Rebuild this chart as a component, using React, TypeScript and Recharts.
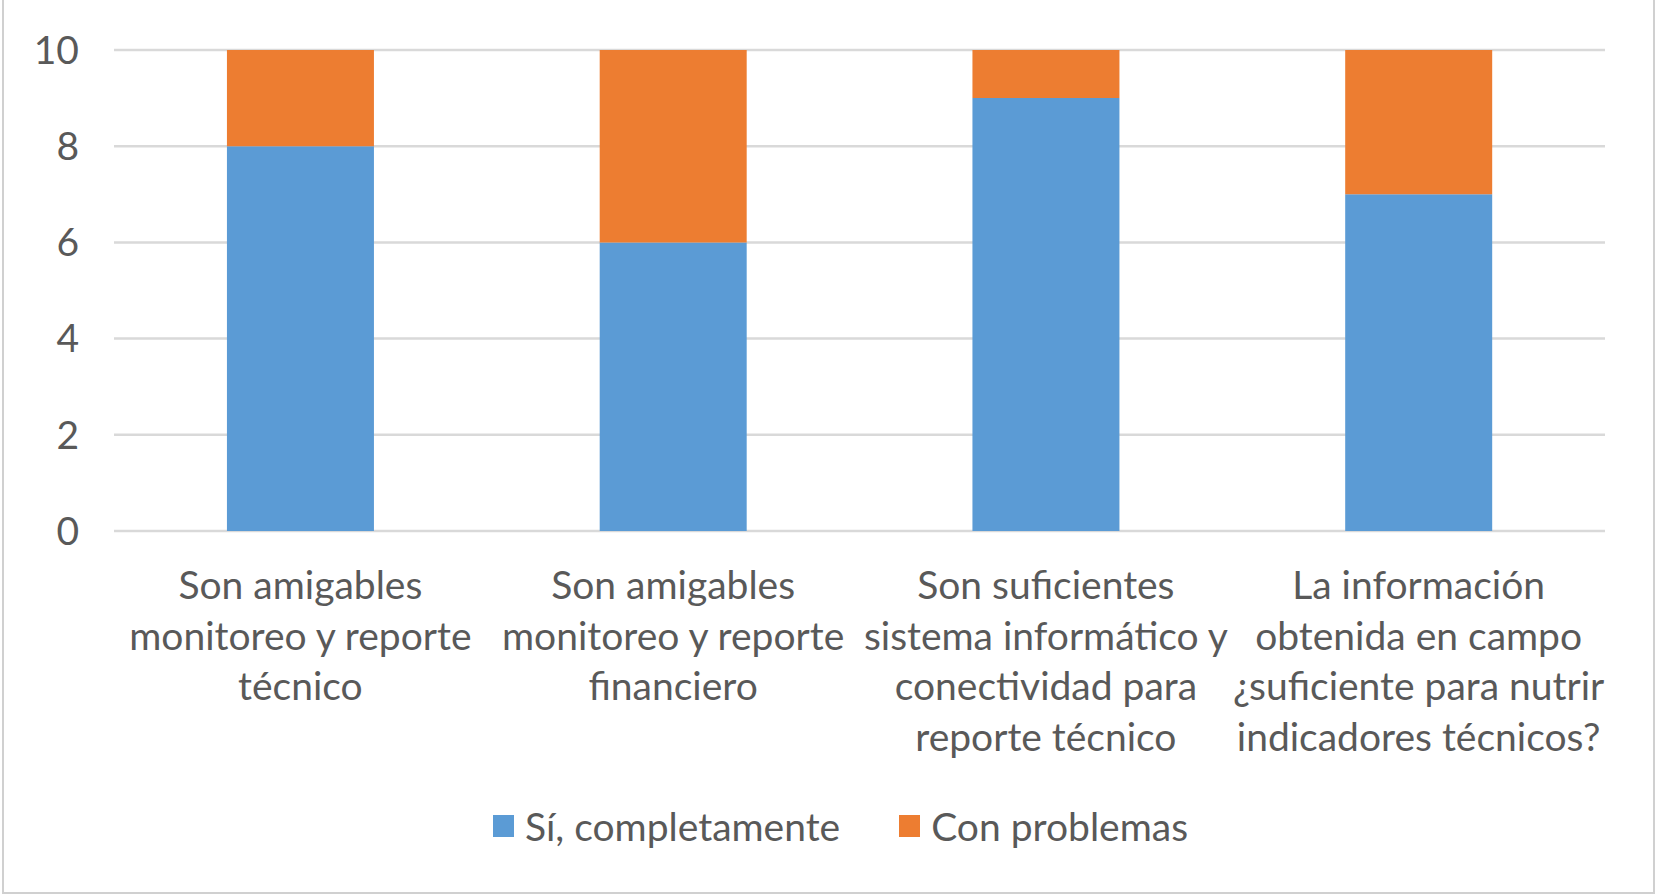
import React from 'react';
import { BarChart, Bar, XAxis, YAxis, CartesianGrid, Legend } from 'recharts';

const categories = [
  'Son amigables\nmonitoreo y reporte\ntécnico',
  'Son amigables\nmonitoreo y reporte\nfinanciero',
  'Son suficientes\nsistema informático y\nconectividad para\nreporte técnico',
  'La información\nobtenida en campo\n¿suficiente para nutrir\nindicadores técnicos?',
];
const siCompletamente = [8, 6, 9, 7];
const conProblemas = [2, 4, 1, 3];
const yTicks = [0, 2, 4, 6, 8, 10];
const seriesNames = ['Sí, completamente', 'Con problemas'];
const colors = ['#5B9BD5', '#ED7D31'];

const data = categories.map((name, i) => ({
  name,
  si: siCompletamente[i],
  con: conProblemas[i],
}));

const FONT = 'Lato, "Open Sans", sans-serif';
const TEXT = '#595959';
const FS = 39;

// multi-line category label, lines are split on \n
const CategoryTick = (props: any) => {
  const { x, y, payload } = props;
  const lines = String(payload.value).split('\n');
  return (
    <text x={x} y={y} textAnchor="middle" fill={TEXT} fontSize={FS} fontFamily={FONT}>
      {lines.map((l, i) => (
        <tspan key={i} x={x} dy={i === 0 ? 68 : 50.7}>
          {l}
        </tspan>
      ))}
    </text>
  );
};

const LegendContent = () => (
  <div style={{ display: 'flex', alignItems: 'center', fontFamily: FONT, fontSize: FS, color: TEXT, paddingLeft: 493 }}>
    {seriesNames.map((n, i) => (
      <div key={n} style={{ display: 'flex', alignItems: 'center', marginRight: 59 }}>
        <span style={{ display: 'inline-block', width: 21, height: 22, background: colors[i], marginRight: 11 }} />
        <span>{n}</span>
      </div>
    ))}
  </div>
);

export default function App() {
  return (
    <div style={{ position: 'absolute', top: 0, left: 0, width: 1655, height: 896, background: '#fff', overflow: 'hidden' }}>
      <div
        style={{
          position: 'absolute',
          left: 2,
          top: -4,
          width: 1653,
          height: 898,
          boxSizing: 'border-box',
          border: '2px solid #d0d0d0',
        }}
      />
      <BarChart
        width={1655}
        height={896}
        data={data}
        margin={{ top: 50, right: 50, left: 0, bottom: 115 }}
        barCategoryGap="30.3%"
      >
        <CartesianGrid vertical={false} stroke="#d9d9d9" strokeWidth={2.5} />
        <XAxis
          dataKey="name"
          height={250}
          axisLine={false}
          tickLine={false}
          tickSize={0}
          tickMargin={0}
          interval={0}
          tick={<CategoryTick />}
        />
        <YAxis
          width={114}
          domain={[0, 10]}
          ticks={yTicks}
          axisLine={false}
          tickLine={false}
          tickSize={0}
          tickMargin={35}
          tick={{ fill: TEXT, fontSize: FS, fontFamily: FONT }}
        />
        <Legend
          verticalAlign="middle"
          align="center"
          wrapperStyle={{ top: 803, left: 0, width: 1655 }}
          content={<LegendContent />}
        />
        <Bar dataKey="si" name={seriesNames[0]} stackId="a" fill={colors[0]} isAnimationActive={false} />
        <Bar dataKey="con" name={seriesNames[1]} stackId="a" fill={colors[1]} isAnimationActive={false} />
      </BarChart>
    </div>
  );
}
